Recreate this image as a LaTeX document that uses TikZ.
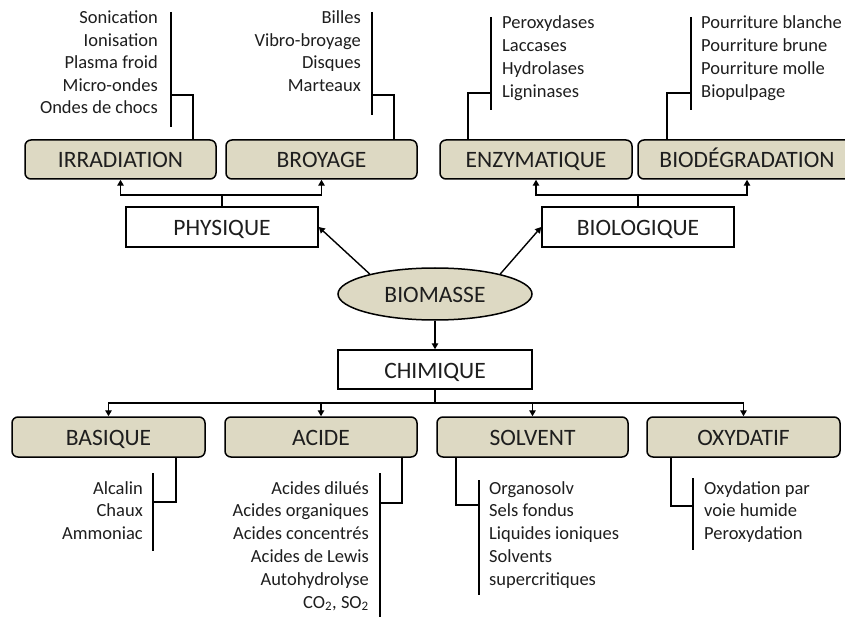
\documentclass[tikz,border=0pt]{standalone}
\usepackage{fontspec}
\setmainfont{Carlito}
\usetikzlibrary{shapes.geometric,arrows.meta}
\definecolor{tanfill}{HTML}{DDD9C3}
\definecolor{ink}{HTML}{1E1E1E}
\begin{document}
\begin{tikzpicture}[x=1pt,y=-1pt,
  lbl/.style={text=ink, text height=17pt, text depth=0pt, font=\fontsize{23.5}{28}\selectfont},
  cat/.style={lbl, draw=black, line width=1.5pt, rounded corners=6pt, fill=tanfill, minimum height=39pt, inner sep=0pt},
  mainbox/.style={lbl, draw=black, line width=1.5pt, fill=white, minimum height=40pt, inner sep=0pt},
  item/.style={inner sep=0pt, text=ink, font=\fontsize{18.5}{22}\selectfont},
  conn/.style={line width=1.4pt},
  arr/.style={conn, -{Triangle[length=6pt,width=6.5pt]}},
]
\clip (0,0) rectangle (845,617);
\fill[white] (0,0) rectangle (845,617);

% top category boxes
\node[cat, minimum width=191pt] (irr) at (120.5,159.5) {IRRADIATION};
\node[cat, minimum width=191pt] (broy) at (321.5,159.5) {BROYAGE};
\node[cat, minimum width=192pt] (enz) at (536,159.5) {ENZYMATIQUE};
\node[cat, minimum width=218pt] (biod) at (747,159.5) {BIODÉGRADATION};

% main boxes
\node[mainbox, minimum width=192pt] (phys) at (222,227) {PHYSIQUE};
\node[mainbox, minimum width=192pt] (biol) at (638,227) {BIOLOGIQUE};
\node[mainbox, minimum width=194pt, minimum height=39pt] (chim) at (435,369.5) {CHIMIQUE};

% biomass
\node[lbl, ellipse, draw=black, line width=1.5pt, fill=tanfill, minimum width=194pt, minimum height=52pt, inner sep=0pt] (bio) at (435,294) {BIOMASSE};

% bottom boxes
\node[cat, minimum width=193pt, minimum height=40pt] (bas) at (108.5,437) {BASIQUE};
\node[cat, minimum width=192pt, minimum height=40pt] (aci) at (321,437) {ACIDE};
\node[cat, minimum width=191pt, minimum height=40pt] (sol) at (532.5,437) {SOLVENT};
\node[cat, minimum width=193pt, minimum height=40pt] (oxy) at (743.5,437) {OXYDATIF};

% connectors from biomass
\draw[arr] (bio.163) -- (phys.east);
\draw[arr] (bio.17) -- (biol.west);
\draw[arr] (bio.south) -- (chim.north);

% physique split
\coordinate (pj) at (222,195);
\draw[conn] (phys.north) -- (pj);
\draw[arr] (pj) -| (irr.south);
\draw[arr] (pj) -| (broy.south);
% biologique split
\coordinate (bj) at (638,195);
\draw[conn] (biol.north) -- (bj);
\draw[arr] (bj) -| (enz.south);
\draw[arr] (bj) -| (biod.south);
% chimique split
\coordinate (cj) at (435,403);
\draw[conn] (chim.south) -- (cj);
\draw[arr] (cj) -| (bas.north);
\draw[arr] (cj) -| (aci.north);
\draw[arr] (cj) -| (sol.north);
\draw[arr] (cj) -| (oxy.north);

% lists - top
\foreach \t [count=\i] in {Sonication, Ionisation, Plasma froid, Micro-ondes, Ondes de chocs}
  \node[item, anchor=base east] (irrl\i) at (158,{24+(\i-1)*22.5}) {\t};
\coordinate (ia) at (171,12); \coordinate (ib) at (171,127); \coordinate (ic) at (171,95); \coordinate (id) at (193,95);
\draw[conn] (ia) -- (ib);
\draw[conn] (ic) -- (id) -- (id |- irr.north);

\foreach \t [count=\i] in {Billes, Vibro-broyage, Disques, Marteaux}
  \node[item, anchor=base east] (broyl\i) at (361,{24+(\i-1)*22.5}) {\t};
\coordinate (ba) at (372,12); \coordinate (bb) at (372,115); \coordinate (bc) at (372,95); \coordinate (bd) at (394,95);
\draw[conn] (ba) -- (bb);
\draw[conn] (bc) -- (bd) -- (bd |- broy.north);

\foreach \t [count=\i] in {Peroxydases, Laccases, Hydrolases, Ligninases}
  \node[item, anchor=base west] (enzl\i) at (502,{29+(\i-1)*22.8}) {\t};
\coordinate (ea) at (491,17); \coordinate (eb) at (491,110); \coordinate (ec) at (491,93); \coordinate (ed) at (468,93);
\draw[conn] (ea) -- (eb);
\draw[conn] (ec) -- (ed) -- (ed |- enz.north);

\foreach \t [count=\i] in {Pourriture blanche, Pourriture brune, Pourriture molle, Biopulpage}
  \node[item, anchor=base west] (biodl\i) at (701,{29+(\i-1)*22.8}) {\t};
\coordinate (da) at (691,17); \coordinate (db) at (691,110); \coordinate (dc) at (691,93); \coordinate (dd) at (667,93);
\draw[conn] (da) -- (db);
\draw[conn] (dc) -- (dd) -- (dd |- biod.north);

% lists - bottom
\foreach \t [count=\i] in {Alcalin, Chaux, Ammoniac}
  \node[item, anchor=base east] (basl\i) at (143,{494+(\i-1)*22.8}) {\t};
\coordinate (sa) at (153,473); \coordinate (sb) at (153,551); \coordinate (sc) at (153,502); \coordinate (sd) at (176,502);
\draw[conn] (sa) -- (sb);
\draw[conn] (sc) -- (sd) -- (sd |- bas.south);

\foreach \t [count=\i] in {Acides dilués, Acides organiques, Acides concentrés, Acides de Lewis, Autohydrolyse, {CO\textsubscript{2}, SO\textsubscript{2}}}
  \node[item, anchor=base east] (acil\i) at (369,{494+(\i-1)*22.8}) {\t};
\coordinate (aa) at (380,473); \coordinate (ab) at (380,620); \coordinate (ac) at (380,503); \coordinate (ad) at (402,503);
\draw[conn] (aa) -- (ab);
\draw[conn] (ac) -- (ad) -- (ad |- aci.south);

\foreach \t [count=\i] in {Organosolv, Sels fondus, Liquides ioniques, Solvents, supercritiques}
  \node[item, anchor=base west] (soll\i) at (489,{494+(\i-1)*22.8}) {\t};
\coordinate (va) at (479,480); \coordinate (vb) at (479,595); \coordinate (vc) at (479,505); \coordinate (vd) at (456,505);
\draw[conn] (va) -- (vb);
\draw[conn] (vc) -- (vd) -- (vd |- sol.south);

\foreach \t [count=\i] in {Oxydation par, voie humide, Peroxydation}
  \node[item, anchor=base west] (oxyl\i) at (704,{494+(\i-1)*22.8}) {\t};
\coordinate (xa) at (693,478); \coordinate (xb) at (693,550); \coordinate (xc) at (693,506); \coordinate (xd) at (671,506);
\draw[conn] (xa) -- (xb);
\draw[conn] (xc) -- (xd) -- (xd |- oxy.south);
\end{tikzpicture}
\end{document}
